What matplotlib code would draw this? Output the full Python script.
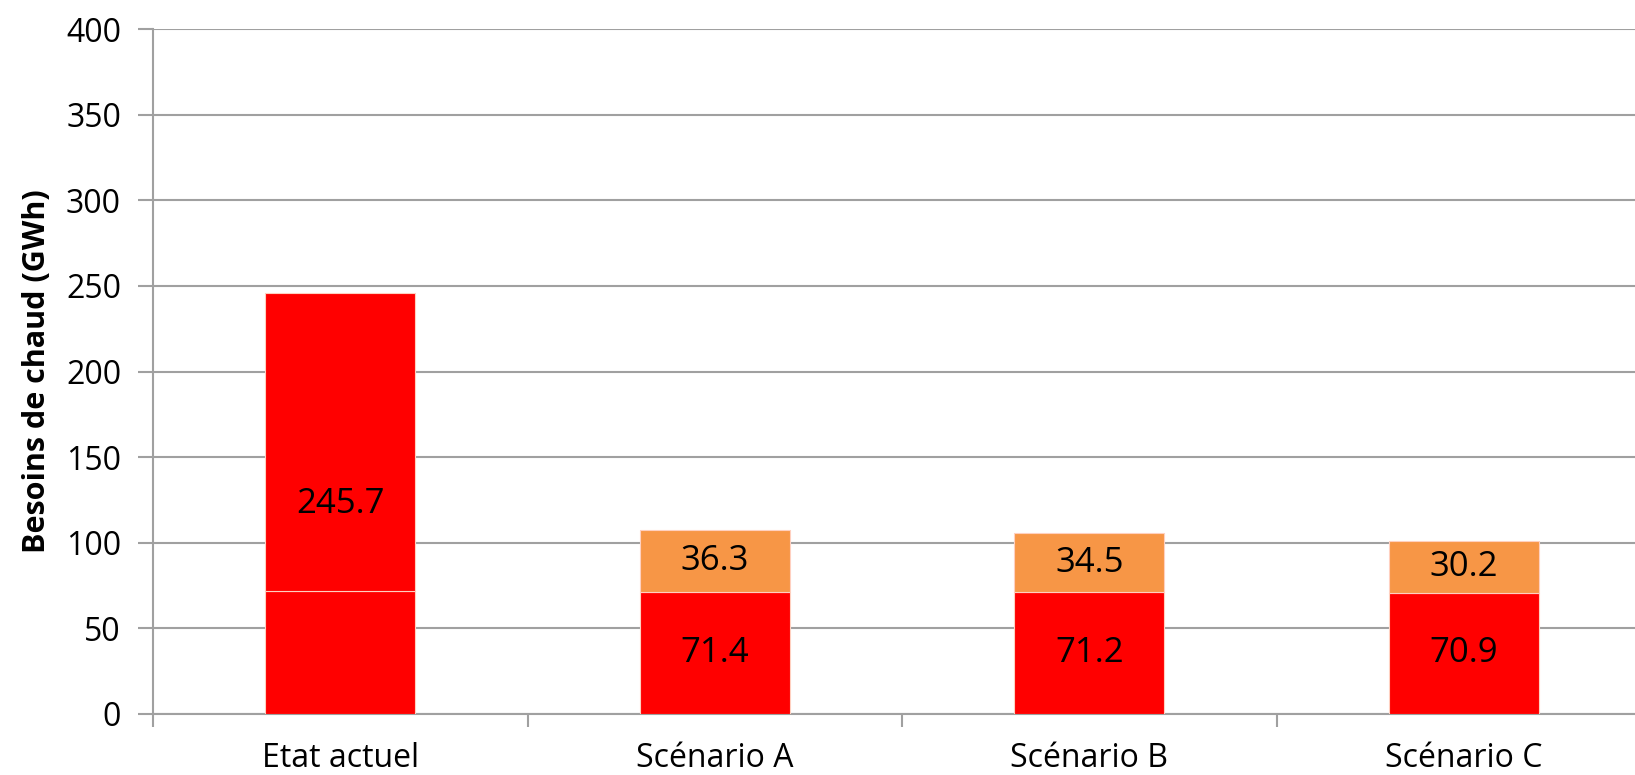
import matplotlib.pyplot as plt
import numpy as np

categories = ["Etat actuel", "Scénario A", "Scénario B", "Scénario C"]
base_values = [71.9, 71.4, 71.2, 70.9]
top_values = [173.8, 36.3, 34.5, 30.2]
total_etat = 245.7

plt.rcParams["font.family"] = ["Open Sans", "DejaVu Sans"]

fig = plt.figure(figsize=(16.35, 7.75), dpi=100)
W, H = 1635, 775
x0, x1 = 153, 153 + 4 * 374.5
y_top, y_bot = 29, 714
ax = fig.add_axes([x0 / W, (H - y_bot) / H, (x1 - x0) / W, (y_bot - y_top) / H])

x = np.arange(len(categories))
red = "#FF0000"
orange = "#F79646"
edge = "#FFD0C0"

ax.bar(x, base_values, width=0.4, color=red, edgecolor=edge, linewidth=0.8, zorder=3)
top_colors = [red, orange, orange, orange]
ax.bar(x, top_values, width=0.4, bottom=base_values, color=top_colors,
       edgecolor=edge, linewidth=0.8, zorder=3)

# data labels
lbl_size = 25
ax.text(x[0], total_etat / 2, f"{total_etat:.1f}", ha="center", va="center",
        fontsize=lbl_size, zorder=4)
for i in range(1, len(categories)):
    ax.text(x[i], base_values[i] / 2, f"{base_values[i]:.1f}", ha="center", va="center",
            fontsize=lbl_size, zorder=4)
    ax.text(x[i], base_values[i] + top_values[i] / 2, f"{top_values[i]:.1f}", ha="center",
            va="center", fontsize=lbl_size, zorder=4)

ax.set_xlim(-0.5, len(categories) - 0.5)
ax.set_ylim(0, 400)
ax.set_yticks(np.arange(0, 401, 50))
ax.tick_params(axis="y", labelsize=23, length=11, width=1.5, color="#A0A0A0", pad=12)
ax.set_xticks(x)
ax.set_xticklabels(categories)
ax.tick_params(axis="x", labelsize=23, length=0, pad=20)
ax.set_xticks(np.arange(-0.5, len(categories), 1), minor=True)
ax.tick_params(axis="x", which="minor", length=9, width=1.5, color="#A0A0A0")
ax.grid(axis="y", color="#A0A0A0", linewidth=1.5, zorder=0)

for side in ["top", "right"]:
    ax.spines[side].set_visible(False)
for side in ["left", "bottom"]:
    ax.spines[side].set_color("#A0A0A0")
    ax.spines[side].set_linewidth(1.5)

ax.set_ylabel("Besoins de chaud (GWh)", fontsize=22, fontweight="bold", labelpad=10)

fig.savefig("out.png", dpi=100)
